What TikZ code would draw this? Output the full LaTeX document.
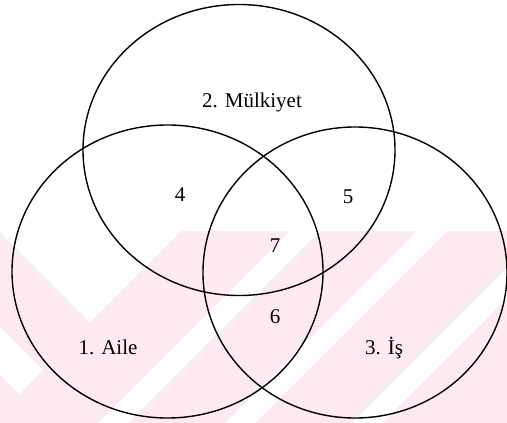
\documentclass[tikz,border=0pt]{standalone}
\usepackage{fontspec}
\setmainfont{Liberation Serif}
\definecolor{pinkwm}{RGB}{253,234,239}
\begin{document}
\begin{tikzpicture}[x=1pt,y=-1pt,
  ring/.style={draw=black, line width=1.4pt},
  lbl/.style={font=\fontsize{21}{25}\selectfont, anchor=base, inner sep=0pt},
  gap/.style={fill=white, draw=none}]
\useasboundingbox (0,0) rectangle (507,423);
\fill[white] (0,0) rectangle (507,423);
% faint watermark
\fill[pinkwm] (0,231) rectangle (507,423);
\begin{scope}
  \clip (0,231) rectangle (507,423);
  \fill[gap] (-1,231) -- (181,231) -- (90,322) -- cycle;
  \fill[gap] (0,327) -- (43,370) -- (19,394) -- (0,375) -- cycle;
  \fill[gap] (290,231) -- (320,231) -- (128,423) -- (98,423) -- cycle;
  \fill[gap] (417,231) -- (447,231) -- (255,423) -- (225,423) -- cycle;
  \fill[gap] (544,231) -- (574,231) -- (382,423) -- (352,423) -- cycle;
\end{scope}
% circles
\draw[ring] (239,150) ellipse [x radius=156, y radius=145.5];
\draw[ring] (167.5,271.5) ellipse [x radius=155.5, y radius=146.5];
\draw[ring] (355,272.5) ellipse [x radius=152, y radius=145.5];
% labels
\node[lbl] (t2) at (252,107) {2. Mülkiyet};
\node[lbl] (t1) at (108,354) {1. Aile};
\node[lbl] (t3) at (384,354) {3. İş};
\node[lbl] (t4) at (180,201) {4};
\node[lbl] (t5) at (348,203) {5};
\node[lbl] (t7) at (275,252) {7};
\node[lbl] (t6) at (275,323) {6};
\end{tikzpicture}
\end{document}
